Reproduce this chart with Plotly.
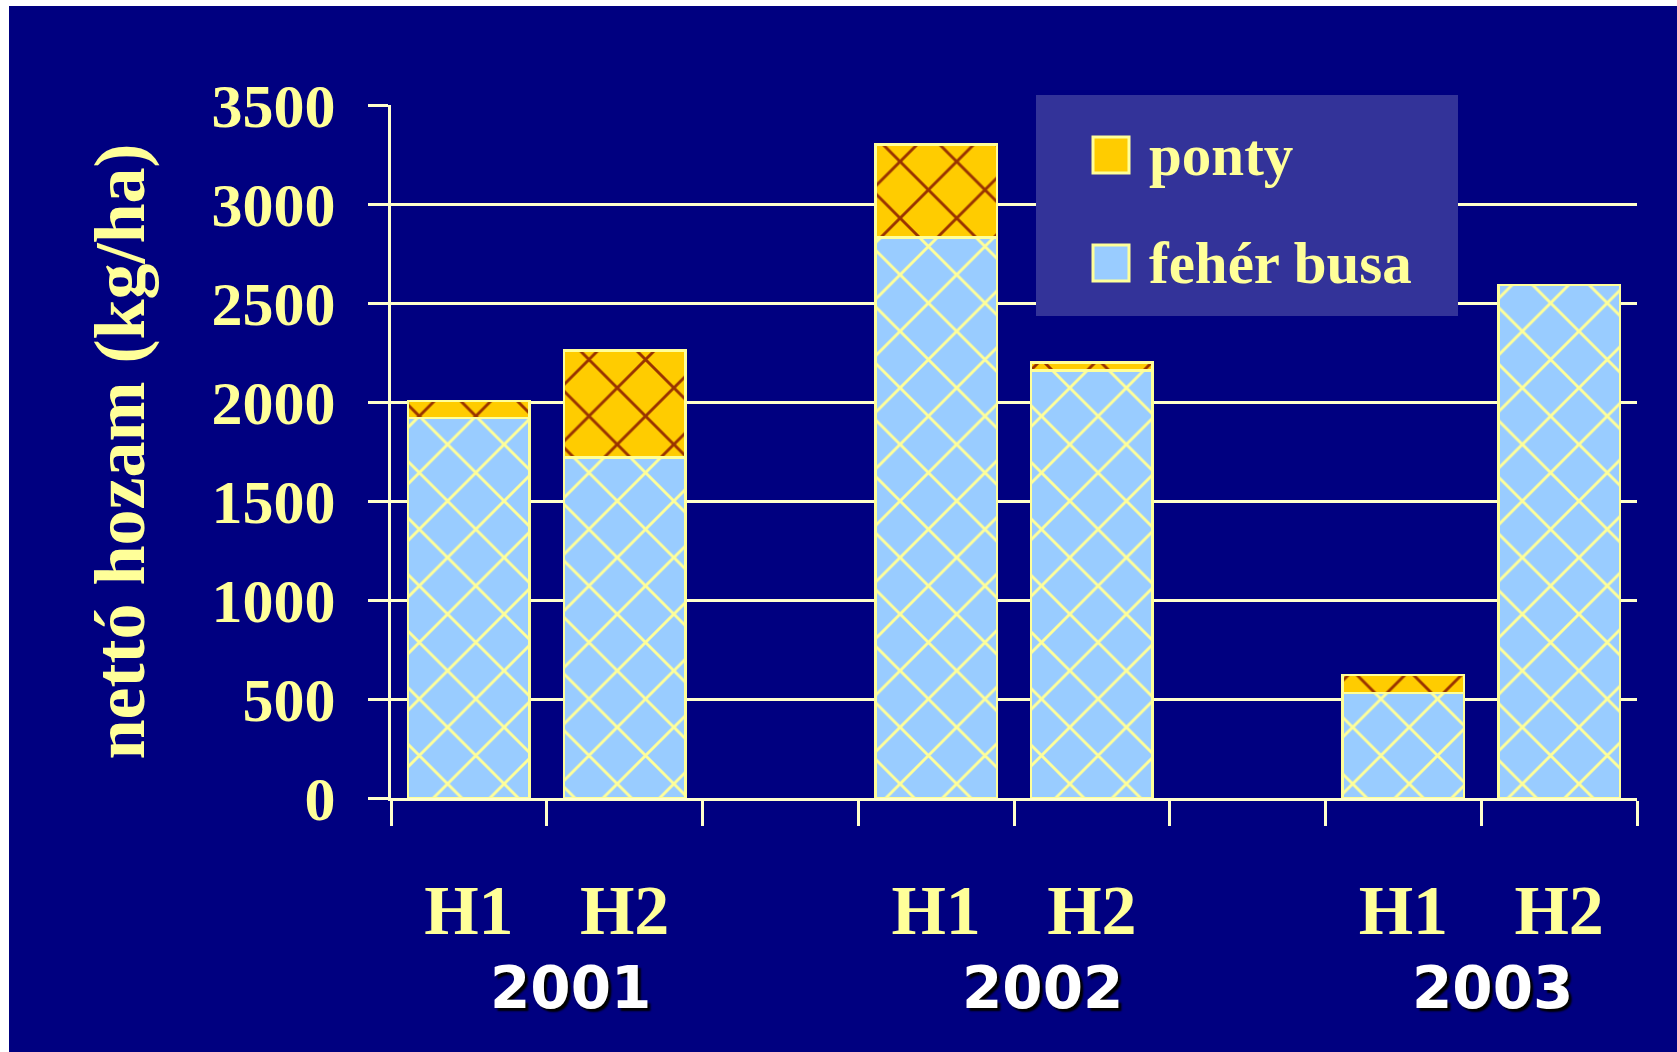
import plotly.graph_objects as go

# ---- data ----
years = ["2001", "2002", "2003"]
halves = ["H1", "H2"]
series_names = ["ponty", "fehér busa"]
busa = [1920, 1720, 2830, 2160, 530, 2590]    # fehér busa (bottom)
ponty = [85, 540, 470, 40, 90, 0]              # ponty (top)
y_ticks = [0, 500, 1000, 1500, 2000, 2500, 3000, 3500]
y_title = "nettó hozam (kg/ha)"

# ---- layout helpers ----
W, H = 1677, 1052
L, R, T, B = 391, 1637, 105, 798
NAVY = "#000080"
YEL = "#FFFF99"
CREAM = "#FFFFCC"
SERIF = "Liberation Serif, Times New Roman, serif"
SANS = "DejaVu Sans, Verdana, sans-serif"
year_label_shift = [0.15, 0.18, 0.07]   # horizontal nudge of year captions (slots)

def px_x(px):
    return (px - L) / (R - L)

def px_y(py):
    return (B - py) / (B - T)

# slot positions: each year takes 3 slots (H1, H2, gap)
xpos = [i * 3 + j for i in range(len(years)) for j in range(len(halves))]
xlabels = [h for _ in years for h in halves]

fig = go.Figure()
fig.add_trace(go.Bar(
    x=xpos, y=busa, name=series_names[1],
    marker=dict(color="#99CCFF",
                line=dict(color=YEL, width=2.5),
                pattern=dict(shape="x", bgcolor="#99CCFF", fgcolor=YEL,
                             size=40, solidity=0.14, fillmode="replace")),
))
fig.add_trace(go.Bar(
    x=xpos, y=ponty, name=series_names[0],
    marker=dict(color="#FFCC00",
                line=dict(color=YEL, width=2.5),
                pattern=dict(shape="x", bgcolor="#FFCC00", fgcolor="#993300",
                             size=40, solidity=0.14, fillmode="replace")),
))

shapes = [
    # white strips at top and left edge of the slide
    dict(type="rect", xref="paper", yref="paper", x0=px_x(0), x1=px_x(W),
         y0=px_y(6), y1=px_y(0), fillcolor="white", line=dict(width=0), layer="above"),
    dict(type="rect", xref="paper", yref="paper", x0=px_x(0), x1=px_x(9),
         y0=px_y(H), y1=px_y(0), fillcolor="white", line=dict(width=0), layer="above"),
    # legend box
    dict(type="rect", xref="paper", yref="paper", x0=px_x(1036), x1=px_x(1458),
         y0=px_y(316), y1=px_y(95), fillcolor="#333399", line=dict(width=0), layer="above"),
]
annotations = []
legend_rows = [(series_names[0], "#FFCC00", 155), (series_names[1], "#99CCFF", 263)]
for name, col, cy in legend_rows:
    shapes.append(dict(type="rect", xref="paper", yref="paper",
                       x0=px_x(1093), x1=px_x(1129), y0=px_y(cy + 18), y1=px_y(cy - 18),
                       fillcolor=col, line=dict(color=YEL, width=3), layer="above"))
    annotations.append(dict(text=name, xref="paper", yref="paper",
                            x=px_x(1147), y=px_y(cy), xanchor="left", yanchor="middle",
                            showarrow=False, font=dict(family=SERIF, size=59, color=YEL,
                                                       weight="bold")))

for i, yr in enumerate(years):
    annotations.append(dict(text=yr, xref="x", yref="paper",
                            x=i * 3 + 0.5 + year_label_shift[i], y=px_y(988),
                            xanchor="center", yanchor="middle", showarrow=False,
                            font=dict(family=SANS, size=58, color="white", weight="bold",
                                      shadow="3px 3px 2px #000000")))

fig.update_layout(
    width=W, height=H,
    margin=dict(l=L, r=W - R, t=T, b=H - B, autoexpand=False),
    paper_bgcolor=NAVY, plot_bgcolor=NAVY,
    barmode="stack", bargap=0.22,
    showlegend=False,
    shapes=shapes, annotations=annotations,
    font=dict(family=SERIF, color=YEL),
)
fig.update_xaxes(
    range=[-0.5, 7.5], tickmode="array", tickvals=xpos, ticktext=xlabels,
    ticks="", showgrid=False, zeroline=False,
    showline=True, linecolor=CREAM, linewidth=3,
    tickfont=dict(family=SERIF, size=70, color=YEL, weight="bold"),
    ticklabelstandoff=49,
    minor=dict(tick0=-0.5, dtick=1, ticks="outside", ticklen=25, tickwidth=3,
               tickcolor=CREAM, showgrid=False),
)
fig.update_yaxes(
    range=[0, 3500], tickmode="array", tickvals=y_ticks,
    showgrid=True, gridcolor=CREAM, gridwidth=3, zeroline=False,
    showline=True, linecolor=CREAM, linewidth=3,
    ticks="outside", ticklen=20, tickwidth=3, tickcolor=CREAM,
    tickfont=dict(family=SERIF, size=62, color=YEL, weight="bold"),
    ticklabelstandoff=20,
    title=dict(text=y_title, standoff=44,
               font=dict(family=SERIF, size=72, color=YEL, weight="bold")),
)

fig.write_html("out.html")
